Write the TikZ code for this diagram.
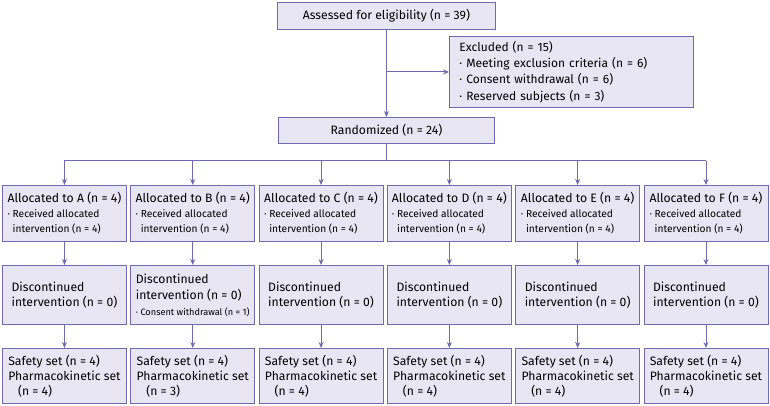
\documentclass[tikz,border=0pt]{standalone}
\usepackage{fontspec}
\setmainfont{Fira Sans}
\usepackage{tikz}
\usetikzlibrary{arrows.meta,calc}

\definecolor{flowline}{RGB}{112,104,176}
\definecolor{flowfill}{RGB}{232,230,243}
\newcommand{\subline}[1]{{\fontsize{10.2}{15}\selectfont #1}}
\newcommand{\tinyline}[1]{{\fontsize{9.2}{15}\selectfont #1}}

\begin{document}
\begin{tikzpicture}[x=1pt,y=-1pt,
    box/.style={draw=flowline,fill=flowfill,line width=0.9pt,anchor=north west,
      align=left,inner sep=0pt,font=\fontsize{12.2}{15}\selectfont},
    arr/.style={draw=flowline,line width=0.9pt,-{Stealth[length=6pt,width=5pt]}},
    link/.style={draw=flowline,line width=0.9pt}]
  \useasboundingbox (0,0) rectangle (770,406);
  % Enrollment
  \node[box,minimum width=218pt,minimum height=27pt] (assess) at (277,2)
    {Assessed for eligibility (n = 39)};
  \node[box,minimum width=244pt,minimum height=71pt,inner xsep=10pt,text width=224pt,
    font=\fontsize{12}{16.3}\selectfont] (excl) at (449,36)
    {Excluded (n = 15)\\
     · Meeting exclusion criteria (n = 6)\\
     · Consent withdrawal (n = 6)\\
     · Reserved subjects (n = 3)};
  \node[box,minimum width=216pt,minimum height=26pt] (rand) at (278,117)
    {Randomized (n = 24)};
  \draw[arr] (assess.south) -- (rand.north);
  \draw[arr] (assess.south |- excl.west) -- (excl.west);
  % Allocation and analysis per group
  \foreach \g/\pk [count=\i from 0] in {A/4,B/3,C/4,D/4,E/4,F/4} {
    \node[box,minimum width=124pt,minimum height=56pt] (alloc\g) at ({2+128.3*\i},185)
      {Allocated to \g{} (n = 4)\\
       \subline{· Received allocated}\\
       \subline{\hphantom{· }intervention (n = 4)}};
    \node[box,minimum width=124pt,minimum height=55pt] (set\g) at ({2+128.3*\i},348)
      {Safety set (n = 4)\\ Pharmacokinetic set\\ \hspace*{0.8em}(n = \pk)};
  }
  % Follow-up (group B has one withdrawal)
  \foreach \g/\i in {A/0,C/2,D/3,E/4,F/5}
    \node[box,minimum width=124pt,minimum height=59pt] (disc\g) at ({2+128.3*\i},265)
      {Discontinued\\ intervention (n = 0)};
  \node[box,minimum width=124pt,minimum height=59pt,font=\fontsize{12.2}{16}\selectfont] (discB) at (130.3,265)
    {Discontinued\\ intervention (n = 0)\\ \tinyline{· Consent withdrawal (n = 1)}};
  \draw[link] (rand.south) -- ++(0,17) coordinate (split);
  \draw[link] (allocA.north |- split) -- (allocF.north |- split);
  \foreach \g in {A,B,C,D,E,F} {
    \draw[arr] (alloc\g.north |- split) -- (alloc\g.north);
    \draw[arr] (alloc\g) -- (disc\g);
    \draw[arr] (disc\g) -- (set\g);
  }
\end{tikzpicture}
\end{document}
